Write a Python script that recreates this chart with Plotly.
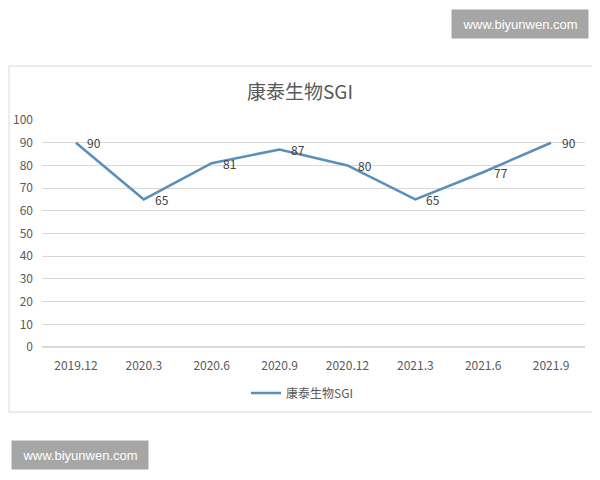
import plotly.graph_objects as go

# quarterly SGI readings for 康泰生物
periods = ["2019.12", "2020.3", "2020.6", "2020.9", "2020.12", "2021.3", "2021.6", "2021.9"]
sgi = [90, 65, 81, 87, 80, 65, 77, 90]
series_name = "康泰生物SGI"
watermark = "www.biyunwen.com"

# the page body has an 8px margin, so the figure is drawn 8px in from the window corner
OFF = 8
W, H = 600 - OFF, 480 - OFF
PLOT_L, PLOT_R, PLOT_T, PLOT_B = 42, 585, 120, 347   # plot area in window pixels
L, R = PLOT_L - OFF, W - (PLOT_R - OFF)
T, B = PLOT_T - OFF, H - (PLOT_B - OFF)
FONT = "Noto Sans CJK SC, Microsoft YaHei, sans-serif"
LINE = "#5b8fbb"
GREY = "#595959"


def px_x(p):
    """window pixel -> paper x"""
    return (p - PLOT_L) / (PLOT_R - PLOT_L)


def px_y(p):
    """window pixel -> paper y"""
    return (PLOT_B - p) / (PLOT_B - PLOT_T)


fig = go.Figure(go.Scatter(
    x=periods,
    y=sgi,
    name=series_name,
    mode="lines",
    line=dict(color=LINE, width=2.6),
))

# data labels to the right of each point (category index positions)
annotations = [
    dict(x=i, y=v, text=str(v), xref="x", yref="y", showarrow=False,
         xanchor="left", yanchor="middle", xshift=9,
         font=dict(size=12, color="#404040", family=FONT))
    for i, v in enumerate(sgi)
]

# watermarks
for cx, cy in [(520, 24.5), (80, 455)]:
    annotations.append(dict(
        text=watermark, xref="paper", yref="paper", x=px_x(cx), y=px_y(cy),
        xanchor="center", yanchor="middle", showarrow=False,
        width=128, height=20, bgcolor="#a6a6a6", borderpad=4,
        font=dict(size=13, color="white", family="Liberation Sans, Arial, sans-serif"),
    ))

shapes = [
    # chart border
    dict(type="rect", xref="paper", yref="paper",
         x0=px_x(9), x1=px_x(597), y0=px_y(412), y1=px_y(66),
         line=dict(color="#d9d9d9", width=1), fillcolor="rgba(0,0,0,0)", layer="below"),
]

fig.update_layout(
    width=W, height=H,
    margin=dict(l=L, r=R, t=T, b=B, autoexpand=False),
    paper_bgcolor="white", plot_bgcolor="white",
    font=dict(family=FONT, color=GREY, size=12),
    title=dict(text=series_name, x=(300 - OFF) / W, xref="container", xanchor="center",
               y=1 - (92 - OFF) / H, yref="container", yanchor="middle",
               font=dict(size=19, color=GREY, family=FONT)),
    showlegend=True,
    legend=dict(orientation="h", x=px_x(302), xanchor="center", y=px_y(393), yanchor="middle",
                font=dict(size=12, color=GREY, family=FONT)),
    shapes=shapes,
    annotations=annotations,
)
fig.update_xaxes(type="category", range=[-0.5, len(periods) - 0.5], showgrid=False,
                 showline=False, ticks="", ticklabelstandoff=10,
                 tickfont=dict(size=12, color=GREY))
fig.update_yaxes(range=[0, 100], dtick=10, showgrid=True, gridcolor="#d9d9d9", gridwidth=1,
                 zeroline=True, zerolinecolor="#d9d9d9", showline=False, ticks="",
                 ticklabelstandoff=8, tickfont=dict(size=12, color=GREY))

fig.write_html("out.html")
